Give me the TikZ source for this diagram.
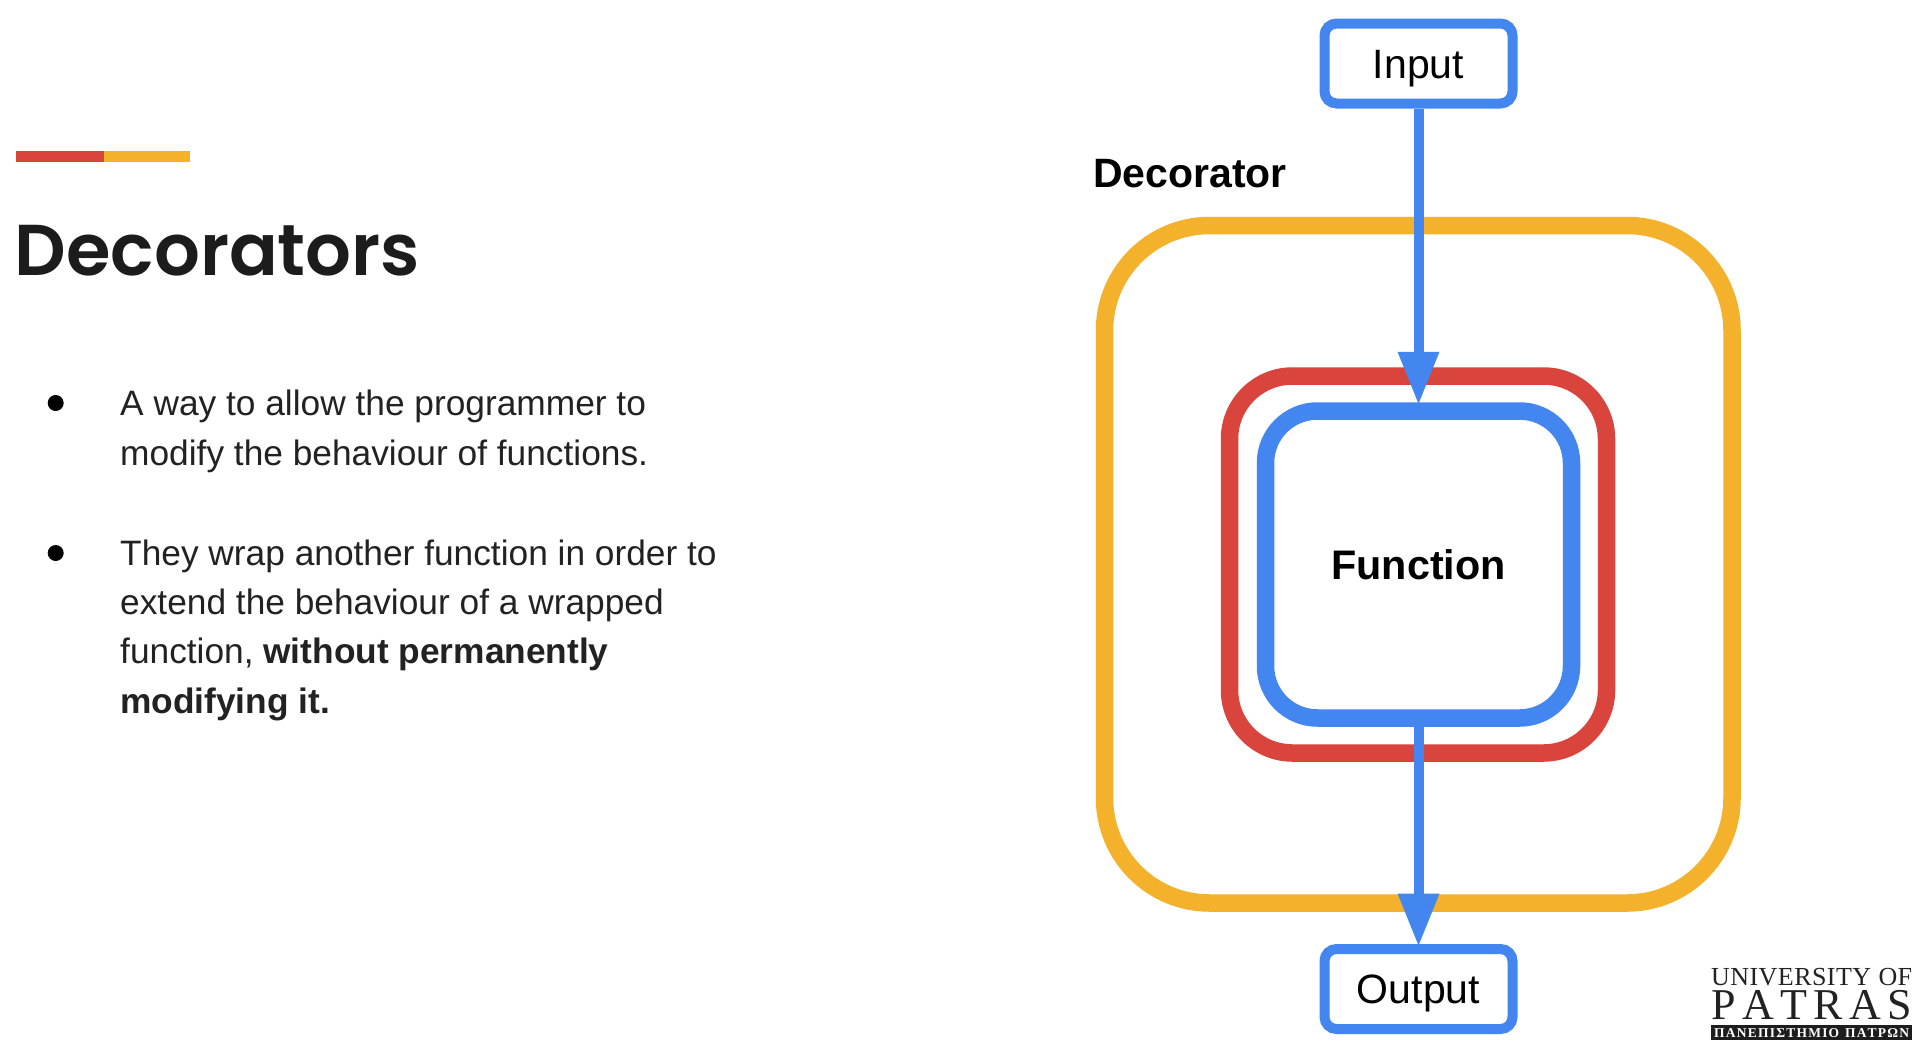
\documentclass[tikz,border=0pt]{standalone}
\usepackage{fontspec}
\setmainfont{Liberation Sans}
\newfontfamily\titlefont[BoldFont={Poppins SemiBold}]{Poppins}
\newfontfamily\logofont{Liberation Serif}
\usetikzlibrary{arrows.meta}
\definecolor{gblue}{HTML}{4486F0}
\definecolor{gred}{HTML}{D9453C}
\definecolor{gyellow}{HTML}{F3B12C}
\definecolor{ink}{HTML}{222222}
\definecolor{titleink}{HTML}{1C1C1C}
\tikzset{
  frame/.style={draw,line width=17.5pt,inner sep=0pt},
  iobox/.style={draw=gblue,line width=10pt,rounded corners=12pt,fill=white,minimum width=188pt,minimum height=80pt,inner sep=0pt,text height=29.5pt,text depth=0pt,font=\fontsize{41}{41}\selectfont,text=black},
  flow/.style={draw=gblue,line width=10pt,shorten >=-1.5pt,-{Triangle[width=42pt,length=52pt,line width=0pt]}},
  lab/.style={font=\fontsize{41}{41}\selectfont\bfseries,text=black,inner sep=0pt},
  body/.style={font=\fontsize{35.3}{49.3}\selectfont,text=ink,align=left,anchor=north west,inner sep=0pt},
  dot/.style={circle,fill=black,minimum size=16pt,inner sep=0pt},
  bar/.style={inner sep=0pt,minimum height=11pt,anchor=west},
  logo/.style={font=\logofont,text=ink,inner sep=0pt,anchor=base west}
}
\begin{document}
\begin{tikzpicture}[x=1pt,y=-1pt]
\useasboundingbox[fill=white] (0,0) rectangle (1926,1060);
% header
\node[bar,fill=gred,minimum width=88pt] (barred) at (16,156.5) {};
\node[bar,fill=gyellow,minimum width=85.5pt,xshift=-0.5pt] (baryellow) at (barred.east) {};
\node[font=\titlefont\fontsize{72}{72}\selectfont\bfseries,text=titleink,anchor=base west,inner sep=0pt] (title) at (14.5,275) {Decorators};
% bullets
\node[dot] (b1) at (55.7,403) {};
\node[body] (t1) at (120,390) {A way to allow the programmer to\\modify the behaviour of functions.};
\node[dot] (b2) at (55.7,553) {};
\node[body] (t2) at (120,539.5) {They wrap another function in order to\\extend the behaviour of a wrapped\\function, \textbf{without permanently}\\\textbf{modifying it.}};
% diagram
\node[frame,draw=gyellow,rounded corners=105pt,minimum width=627.5pt,minimum height=677.5pt] (dec) at (1418.25,564.25) {};
\node[frame,draw=gred,rounded corners=63pt,minimum width=377pt,minimum height=377pt] (wrap) at (1418,564.5) {};
\node[frame,draw=gblue,rounded corners=52pt,minimum width=306pt,minimum height=307pt,font=\fontsize{41.3}{41.3}\selectfont\bfseries,text=black,text height=29pt,text depth=0pt] (func) at (1418.5,564.5) {Function};
\node[iobox] (input) at (1418.5,63.5) {Input};
\node[iobox] (output) at (1418.5,989) {Output};
\node[lab,anchor=base west] (declabel) at (1093,187) {Decorator};
\draw[flow] (input.south) -- (func.north);
\draw[flow] (func.south) -- (output.north);
% logo
\node[logo,font=\logofont\fontsize{26}{26}\selectfont] (logo1) at (1711,985.7) {\makebox[201pt][s]{U\hfill N\hfill I\hfill V\hfill E\hfill R\hfill S\hfill I\hfill T\hfill Y\hfill\ \hfill O\hfill F}};
\node[logo,font=\logofont\fontsize{44}{44}\selectfont] (logo2) at (1711,1019) {\makebox[201pt][s]{P\hfill A\hfill T\hfill R\hfill A\hfill S}};
\node[fill=ink!85!black,minimum width=201pt,minimum height=14.5pt,inner sep=0pt,anchor=north west] (logobar) at (1711,1025) {};
\node[logo,font=\logofont\fontsize{13.5}{13.5}\selectfont\bfseries,text=white] (logo3) at (1714,1037) {\makebox[195pt][s]{Π\hfill Α\hfill Ν\hfill Ε\hfill Π\hfill Ι\hfill Σ\hfill Τ\hfill Η\hfill Μ\hfill Ι\hfill Ο\hfill\ \hfill Π\hfill Α\hfill Τ\hfill Ρ\hfill Ω\hfill Ν}};
\end{tikzpicture}
\end{document}
